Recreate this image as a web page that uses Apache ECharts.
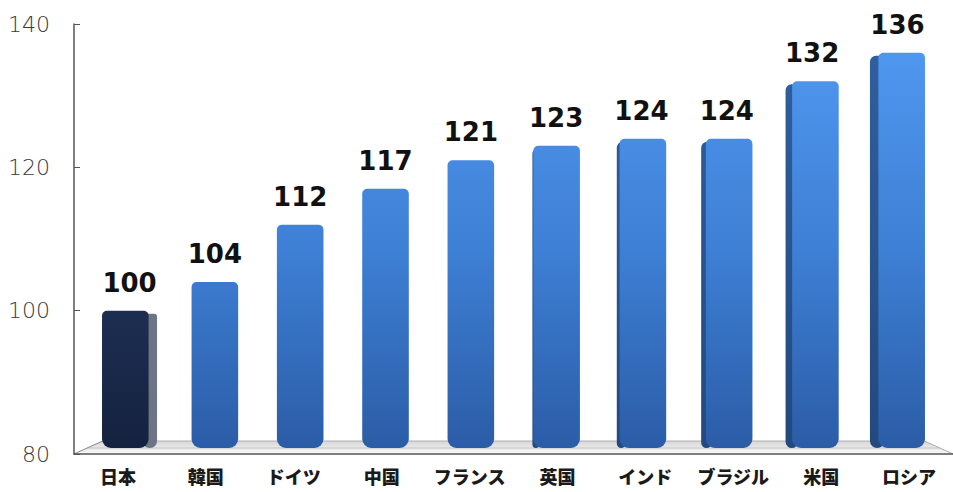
<!DOCTYPE html>
<html><head><meta charset="utf-8">
<script src="https://cdn.jsdelivr.net/npm/echarts@6/dist/echarts.min.js"></script>
<style>html,body{margin:0;padding:0;background:#fff}#c{width:953px;height:492px}</style>
</head><body><div id="c"></div>
<script>
const categories = ['日本', '韓国', 'ドイツ', '中国', 'フランス', '英国', 'インド', 'ブラジル', '米国', 'ロシア'];
const values = [100, 104, 112, 117, 121, 123, 124, 124, 132, 136];
const yTicks = [80, 100, 120, 140];
const highlightIndex = 0;

const yMin = yTicks[0], yMax = yTicks[yTicks.length - 1], yStep = yTicks[1] - yTicks[0];

const chart = echarts.init(document.getElementById('c'), null, { renderer: 'svg' });

function floorItem(params, api) {
  const cs = params.coordSys;
  const left = cs.x, right = cs.x + cs.width, bottom = cs.y + cs.height;
  const mid = cs.x + cs.width / 2;
  const k = 0.935, depth = 13;
  const bl = mid + (left - mid) * k, br = mid + (right - mid) * k;
  const f = 6 / 13;
  const ml = left + (bl - left) * f, mr = right + (br - right) * f;
  return {
    type: 'group',
    children: [
      { type: 'polygon', shape: { points: [[bl, bottom - depth], [br, bottom - depth], [right, bottom], [left, bottom]] },
        style: { fill: new echarts.graphic.LinearGradient(0, 0, 0, 1, [{ offset: 0, color: '#d6d6d6' }, { offset: 0.5, color: '#e8e8e8' }, { offset: 1, color: '#fafafa' }]) } },
      { type: 'line', shape: { x1: bl, y1: bottom - depth, x2: br, y2: bottom - depth }, style: { stroke: '#b0b0b0', lineWidth: 1 } },
      { type: 'line', shape: { x1: ml, y1: bottom - 6, x2: mr, y2: bottom - 6 }, style: { stroke: '#c4c4c4', lineWidth: 1 } },
      { type: 'line', shape: { x1: left, y1: bottom, x2: bl, y2: bottom - depth }, style: { stroke: '#888', lineWidth: 1 } },
      { type: 'line', shape: { x1: right, y1: bottom, x2: br, y2: bottom - depth }, style: { stroke: '#aaa', lineWidth: 1 } }
    ]
  };
}

function barItem(params, api) {
  const i = api.value(0), v = api.value(1);
  const cs = params.coordSys;
  const mid = cs.x + cs.width / 2;
  const topPt = api.coord([i, v]);
  const basePt = api.coord([i, yMin]);
  const band = api.size([1, 0])[0];
  const cx = mid + (topPt[0] - mid) * 0.9707;
  const frontW = band * 0.53;
  const dark = i === highlightIndex;
  let side = Math.abs(cx - mid) * 0.022;
  if (cx < mid && !dark) side = 0;
  const total = frontW + side;
  const x0 = cx - total / 2;
  const yTop = topPt[1], yBot = basePt[1] - 6;
  let frontX, sideX;
  if (cx >= mid) { sideX = x0; frontX = x0 + side; } else { frontX = x0; sideX = x0 + frontW; }
  const frontFill = dark
    ? new echarts.graphic.LinearGradient(0, 0, 0, 1, [{ offset: 0, color: '#1d2e52' }, { offset: 1, color: '#15223f' }])
    : new echarts.graphic.LinearGradient(0, 60, 0, 450, [{ offset: 0, color: '#4f96ee' }, { offset: 0.5, color: '#3d7fd4' }, { offset: 1, color: '#2b5ca6' }], true);
  const sideFill = dark ? '#6b7586'
    : new echarts.graphic.LinearGradient(0, 60, 0, 450, [{ offset: 0, color: '#2f5f9f' }, { offset: 1, color: '#22497f' }], true);
  const children = [];
  if (side > 0.8) {
    const sx = cx >= mid ? sideX : sideX - 6;
    children.push({ type: 'rect', shape: { x: sx, y: yTop + 3, width: side + 6, height: yBot - yTop - 3, r: [6, 3, 8, 8] }, style: { fill: sideFill } });
  }
  children.push({ type: 'rect', shape: { x: frontX, y: yTop, width: frontW, height: yBot - yTop, r: [5, 5, 9, 9] }, style: { fill: frontFill } });
  children.push({ type: 'text', x: cx, y: yTop - 28, style: { text: String(v), fontFamily: 'DejaVu Sans', fontWeight: 'bold', fontSize: 26, fill: '#111', align: 'center', verticalAlign: 'middle' } });
  return { type: 'group', children };
}

chart.setOption({
  animation: false,
  backgroundColor: '#fff',
  grid: { left: 74, right: -7, top: 24, bottom: 38 },
  xAxis: {
    type: 'category',
    data: categories,
    axisLine: { lineStyle: { color: '#555', width: 1.5 } },
    axisTick: { inside: true, length: 6, lineStyle: { color: '#555' } },
    axisLabel: { interval: 0, hideOverlap: false, margin: 13, fontSize: 18, fontWeight: 900, color: '#1a1a1a', fontFamily: 'Noto Sans CJK JP' },
    z: 3
  },
  yAxis: {
    type: 'value',
    min: yMin, max: yMax, interval: yStep,
    splitLine: { show: false },
    axisLine: { show: true, lineStyle: { color: '#555', width: 1.5 } },
    axisTick: { show: true, inside: true, length: 6, lineStyle: { color: '#555' } },
    axisLabel: { margin: 24, fontSize: 22, fontFamily: 'DejaVu Sans', fontWeight: 200, color: '#3a3a3a' },
    z: 3
  },
  series: [
    { type: 'custom', renderItem: floorItem, data: [[0, yMin]], encode: { x: 0, y: 1 }, z: 1, silent: true },
    { type: 'custom', renderItem: barItem, data: values.map((v, i) => [i, v]), encode: { x: 0, y: 1 }, z: 4 }
  ]
});
</script>
</body></html>
